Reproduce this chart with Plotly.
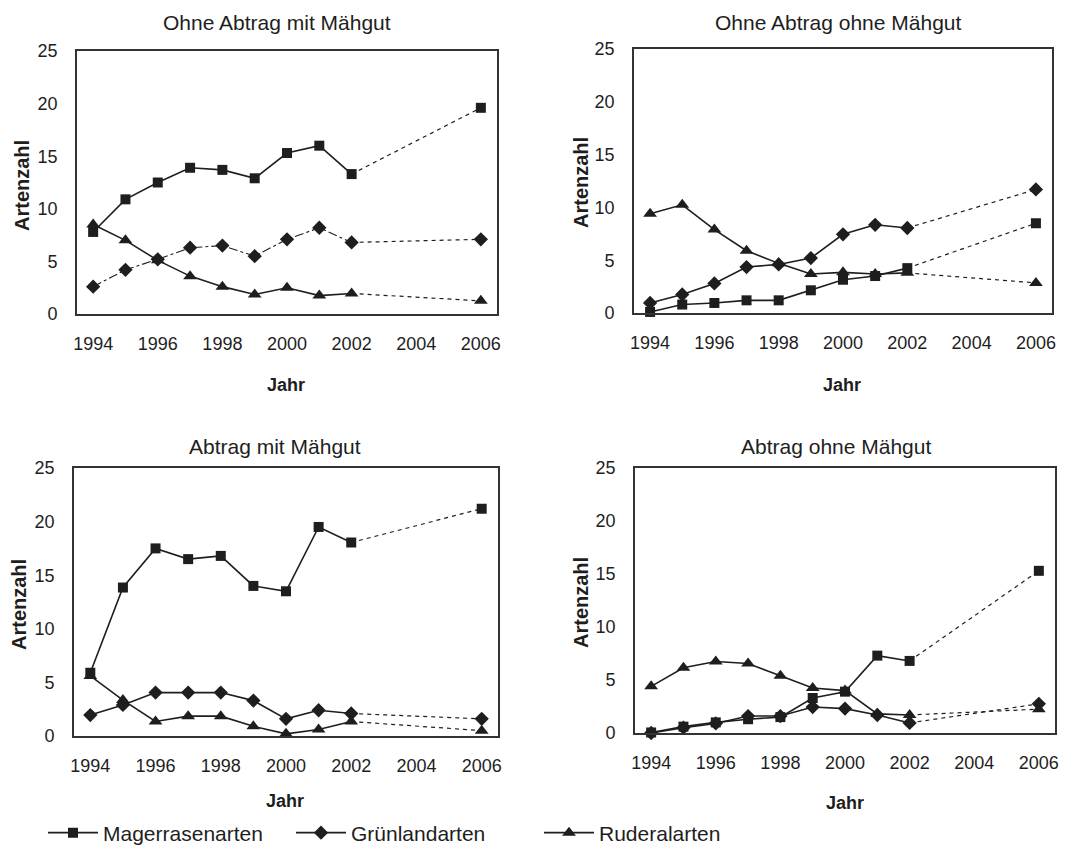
import plotly.graph_objects as go

# Erhebungsjahre
jahre = [1994, 1995, 1996, 1997, 1998, 1999, 2000, 2001, 2002, 2006]

# Ohne Abtrag mit Mähgut
p1_mager = [7.8, 10.9, 12.5, 13.9, 13.7, 12.9, 15.3, 16.0, 13.3, 19.6]
p1_gruen = [2.6, 4.2, 5.2, 6.3, 6.5, 5.5, 7.1, 8.2, 6.8, 7.1]
p1_ruder = [8.5, 7.0, 5.1, 3.6, 2.6, 1.85, 2.5, 1.75, 1.95, 1.25]

# Ohne Abtrag ohne Mähgut
p2_mager = [0.1, 0.8, 0.95, 1.2, 1.2, 2.15, 3.15, 3.5, 4.25, 8.5]
p2_gruen = [0.95, 1.75, 2.8, 4.35, 4.6, 5.2, 7.45, 8.35, 8.05, 11.7]
p2_ruder = [9.4, 10.25, 7.9, 5.9, 4.7, 3.7, 3.85, 3.7, 3.8, 2.85]

# Abtrag mit Mähgut
p3_mager = [5.9, 13.85, 17.5, 16.5, 16.8, 14.0, 13.5, 19.5, 18.05, 21.2]
p3_gruen = [1.95, 2.9, 4.05, 4.05, 4.05, 3.3, 1.6, 2.4, 2.1, 1.6]
p3_ruder = [5.6, 3.35, 1.35, 1.85, 1.85, 0.9, 0.2, 0.6, 1.35, 0.5]

# Abtrag ohne Mähgut
p4_mager = [0.05, 0.6, 1.0, 1.3, 1.5, 3.3, 3.9, 7.3, 6.8, 15.3]
p4_gruen = [0.0, 0.5, 0.9, 1.6, 1.6, 2.45, 2.3, 1.7, 0.95, 2.75]
p4_ruder = [4.4, 6.15, 6.75, 6.55, 5.4, 4.25, 4.0, 1.8, 1.7, 2.25]

titel = ["Ohne Abtrag mit Mähgut", "Ohne Abtrag ohne Mähgut",
         "Abtrag mit Mähgut", "Abtrag ohne Mähgut"]
gruppen = ["Magerrasenarten", "Grünlandarten", "Ruderalarten"]
y_ticks = [0, 5, 10, 15, 20, 25]
x_ticks = [1994, 1996, 1998, 2000, 2002, 2004, 2006]

panels = [
    (p1_mager, p1_gruen, p1_ruder),
    (p2_mager, p2_gruen, p2_ruder),
    (p3_mager, p3_gruen, p3_ruder),
    (p4_mager, p4_gruen, p4_ruder),
]

W, H = 1087, 845
INK = "#1e1e1e"

# plot frames in pixels: (left, right, top, bottom)
frames = [
    (77, 497, 51, 314),
    (634, 1052, 49, 313),
    (74, 498, 468, 736),
    (635, 1055, 468, 733),
]

symbols = ["square", "diamond", "triangle-up"]
sizes = [10, 11, 12]

fig = go.Figure()

for i, (werte, fr) in enumerate(zip(panels, frames)):
    xa = "x" if i == 0 else f"x{i+1}"
    ya = "y" if i == 0 else f"y{i+1}"
    for k, serie in enumerate(werte):
        dash = "solid"
        width = 1.6
        if i == 0 and k == 1:
            dash = "dashdot"
            width = 1.1
        # 2002-2006: dashed extension (line only)
        fig.add_trace(go.Scatter(
            x=jahre[-2:], y=serie[-2:], xaxis=xa, yaxis=ya,
            mode="lines", showlegend=False, hoverinfo="skip",
            line=dict(color=INK, width=1.2, dash="4px,4px"),
            cliponaxis=False,
        ))
        # 2006 value
        fig.add_trace(go.Scatter(
            x=jahre[-1:], y=serie[-1:], xaxis=xa, yaxis=ya,
            mode="markers", showlegend=False,
            marker=dict(symbol=symbols[k], size=sizes[k], color=INK, opacity=1),
            cliponaxis=False,
        ))
        # 1994-2002: solid series with markers
        fig.add_trace(go.Scatter(
            x=jahre[:-1], y=serie[:-1], xaxis=xa, yaxis=ya,
            mode="lines+markers", name=gruppen[k],
            showlegend=(i == 2),
            legendrank=k + 1,
            line=dict(color=INK, width=width, dash=dash),
            marker=dict(symbol=symbols[k], size=sizes[k], color=INK, opacity=1),
            cliponaxis=False,
        ))

axis_font = dict(family="Liberation Sans, Arial, sans-serif", size=18, color=INK)

layout = dict(
    width=W, height=H,
    margin=dict(l=0, r=0, t=0, b=0, autoexpand=False),
    paper_bgcolor="white", plot_bgcolor="white",
    font=dict(family="Liberation Sans, Arial, sans-serif", color=INK),
    showlegend=True,
    legend=dict(
        orientation="h", x=43 / W, xanchor="left", y=(H - 833) / H, yanchor="middle",
        font=dict(size=21, color=INK), entrywidth=183, entrywidthmode="pixels",
        itemwidth=50, bgcolor="rgba(0,0,0,0)", traceorder="normal",
    ),
)

annotations = []
for i, fr in enumerate(frames):
    l, r, t, b = fr
    sfx = "" if i == 0 else str(i + 1)
    layout["xaxis" + sfx] = dict(
        domain=[l / W, r / W], range=[1993.5, 2006.5], anchor="y" + sfx,
        tickmode="array", tickvals=x_ticks, ticks="", showgrid=False, zeroline=False,
        showline=True, linecolor="#333", linewidth=1.8, mirror=True,
        tickfont=axis_font, ticklabelstandoff=12,
    )
    layout["yaxis" + sfx] = dict(
        domain=[(H - b) / H, (H - t) / H], range=[0, 25], anchor="x" + sfx,
        tickmode="array", tickvals=y_ticks, ticks="", showgrid=False, zeroline=False,
        showline=True, linecolor="#333", linewidth=1.8, mirror=True,
        tickfont=axis_font, ticklabelstandoff=14,
    )

# titles and axis labels positioned in pixel space
title_pos = [(277, 22), (838, 22), (275, 446), (836, 446)]
ylab_pos = [(22, 186), (581, 183), (19, 605), (581, 603)]
xlab_pos = [(286, 385), (842, 385), (285, 801), (845, 803)]

for i in range(4):
    tx, ty = title_pos[i]
    annotations.append(dict(
        text=titel[i], x=tx / W, y=(H - ty) / H, xref="paper", yref="paper",
        xanchor="center", yanchor="middle", showarrow=False,
        font=dict(size=21, color=INK)))
    lx, ly = ylab_pos[i]
    annotations.append(dict(
        text="<b>Artenzahl</b>", x=lx / W, y=(H - ly) / H, xref="paper", yref="paper",
        xanchor="center", yanchor="middle", showarrow=False, textangle=-90,
        font=dict(size=20, color=INK)))
    jx, jy = xlab_pos[i]
    annotations.append(dict(
        text="<b>Jahr</b>", x=jx / W, y=(H - jy) / H, xref="paper", yref="paper",
        xanchor="center", yanchor="middle", showarrow=False,
        font=dict(size=18, color=INK)))

layout["annotations"] = annotations
fig.update_layout(**layout)

fig.write_html("out.html")
